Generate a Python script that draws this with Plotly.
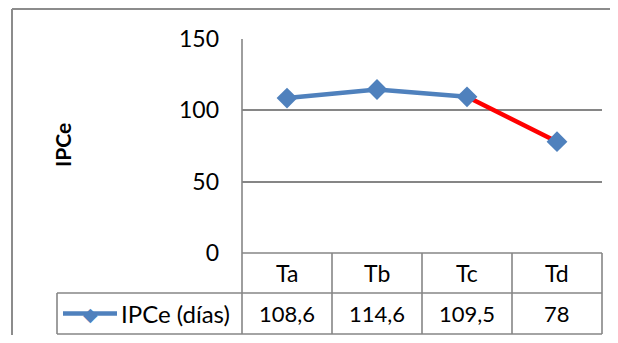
import plotly.graph_objects as go

categories = ["Ta", "Tb", "Tc", "Td"]
values = [108.6, 114.6, 109.5, 78]
value_labels = ["108,6", "114,6", "109,5", "78"]
series_name = "IPCe (días)"
y_ticks = [0, 50, 100, 150]
y_title = "IPCe"

VW, VH = 618, 343
OFF = 8  # page body margin
W, H = VW - 2 * OFF, VH - 2 * OFF
BLUE = "#4F81BD"
RED = "#FF0000"
GRID = "#868686"
FONT = "Lato"

def px(x):
    return (x - OFF) / W

def py(y):
    return 1 - (y - OFF) / H

x0, x1 = 242, 602
ytop, ybot = 39, 253
row1, row2 = 293, 334
leg_left = 57

fig = go.Figure()
fig.add_trace(go.Scatter(x=categories[:3], y=values[:3], mode="lines",
                         line=dict(color=BLUE, width=4.5), showlegend=False, hoverinfo="skip"))
fig.add_trace(go.Scatter(x=categories[2:], y=values[2:], mode="lines",
                         line=dict(color=RED, width=4.5), showlegend=False, hoverinfo="skip"))
fig.add_trace(go.Scatter(x=categories, y=values, mode="markers", name=series_name,
                         marker=dict(symbol="diamond", size=16, color=BLUE), showlegend=False))

shapes = []
def line(xa, ya, xb, yb, color=GRID, w=1.6):
    shapes.append(dict(type="line", xref="paper", yref="paper",
                       x0=px(xa), y0=py(ya), x1=px(xb), y1=py(yb),
                       line=dict(color=color, width=w)))

# outer chart frame (top and left edges visible)
line(12, 9, VW + 20, 9, "#8C8C8C", 2)
line(12, 9, 12, VH + 20, "#8C8C8C", 2)
line(x0, ytop, x0, ybot)
line(x0, ybot, x0, row2)
line(x0, ybot, x1, ybot)
line(x1, ybot, x1, row2)
line(leg_left, row1, x1, row1)
line(leg_left, row2, x1, row2)
line(leg_left, row1, leg_left, row2)
colw = (x1 - x0) / len(categories)
for i in range(1, len(categories)):
    xx = x0 + colw * i
    line(xx, ybot, xx, row2)
line(63, 313.5, 117, 313.5, BLUE, 4.5)

def ann(**kw):
    d = dict(showarrow=False, xanchor="center", yanchor="middle")
    d.update(kw)
    return d

annotations = []
for c, lab in zip(categories, value_labels):
    annotations.append(ann(x=c, xref="x", y=py((ybot + row1) / 2), yref="paper",
                           text=c, font=dict(size=23, color="black", family=FONT)))
    annotations.append(ann(x=c, xref="x", y=py((row1 + row2) / 2), yref="paper",
                           text=lab, font=dict(size=22, color="black", family=FONT)))
annotations.append(ann(x=px(119), xref="paper", y=py((row1 + row2) / 2), yref="paper",
                       xanchor="left", text=series_name,
                       font=dict(size=24, color="black", family=FONT)))
annotations.append(ann(x=px(62), xref="paper", y=py(145), yref="paper", textangle=-90,
                       text="<b>" + y_title + "</b>",
                       font=dict(size=21, color="black", family=FONT)))
annotations.append(ann(x=px(90), xref="paper", y=py(313.5), yref="paper",
                       text="◆", font=dict(size=19, color=BLUE)))

fig.update_layout(
    template="none",
    width=W, height=H, autosize=False,
    margin=dict(l=0, r=0, t=0, b=0, pad=0),
    paper_bgcolor="white", plot_bgcolor="white",
    showlegend=False,
    xaxis=dict(domain=[px(x0), px(x1)], range=[-0.5, 3.5], showticklabels=False,
               showgrid=False, zeroline=False, showline=False, ticks="", automargin=False),
    yaxis=dict(domain=[py(ybot), py(ytop)], range=[0, 150], tickvals=y_ticks,
               showgrid=True, gridcolor=GRID, gridwidth=1.6, zeroline=False,
               showline=False, ticks="", ticklabelstandoff=22, automargin=False,
               tickfont=dict(size=23, color="black", family=FONT)),
    shapes=shapes,
    annotations=annotations,
)

fig.write_html("out.html")
